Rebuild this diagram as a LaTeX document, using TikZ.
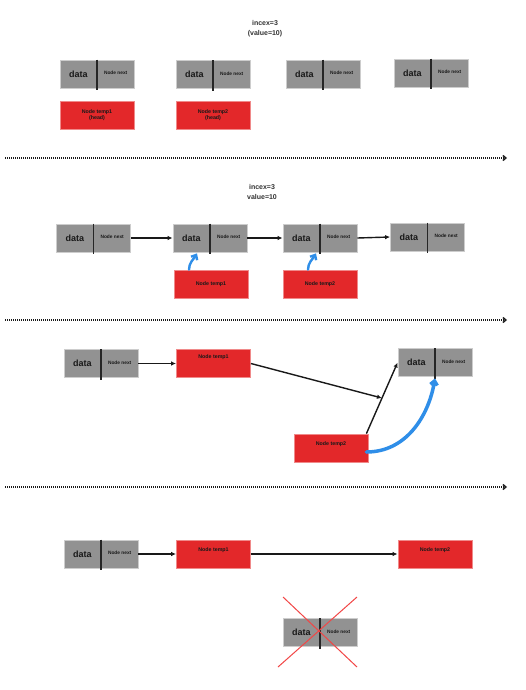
\documentclass[tikz,border=0pt]{standalone}
\usepackage{fontspec}
\setmainfont{Liberation Sans}
\usetikzlibrary{arrows.meta,calc}
\definecolor{boxgray}{HTML}{929292}
\definecolor{boxedge}{HTML}{CDCDCD}
\definecolor{tempred}{HTML}{E3282A}
\definecolor{rededge}{HTML}{F08A8A}
\definecolor{ptrblue}{HTML}{2F8EE8}
\definecolor{xred}{HTML}{F24646}
\tikzset{
  gbox/.style={draw=boxedge, line width=0.8pt, fill=boxgray, minimum width=74pt, minimum height=28pt, inner sep=0pt},
  rbox/.style={draw=rededge, line width=0.8pt, fill=tempred, minimum width=74pt, minimum height=28pt, inner sep=0pt},
  divider/.style={line width=1.5pt, black!85},
  datatxt/.style={font=\bfseries\fontsize{9}{10}\selectfont, text=black!90, inner sep=0pt},
  nexttxt/.style={font=\bfseries\fontsize{4.8}{5}\selectfont, text=black!90, inner sep=0pt},
  temptxt/.style={font=\bfseries\fontsize{5.3}{6}\selectfont, align=center, text=black!90, inner sep=0pt},
  titletxt/.style={font=\bfseries\fontsize{7}{10.5}\selectfont, align=center, text=black!80, inner sep=0pt},
  link/.style={-{Latex[length=5pt,width=4.5pt]}, line width=1.4pt, black!90},
  ptr/.style={ptrblue, line cap=round, -{Straight Barb[length=4pt,width=7pt]}},
  sepline/.style={line width=1.4pt, dash pattern=on 1pt off 1pt, black!90, -{Straight Barb[length=3pt,width=5pt]}},
  xline/.style={xred, line width=1pt}
}
\newcommand\listnode[3]{%
  \node[gbox] (#1) at (#2,#3) {};
  \draw[divider] (#1.north) -- ([yshift=-2pt]#1.south);
  \node[datatxt] (#1-d) at ($(#1.center)!0.5!(#1.west)$) {data};
  \node[nexttxt] (#1-n) at ([yshift=0.8pt]$(#1.center)!0.5!(#1.east)$) {Node next};
}
\begin{document}
\begin{tikzpicture}[x=1pt,y=-1pt]
\useasboundingbox (0,0) rectangle (526,690);
\fill[white] (0,0) rectangle (526,690);

% ---------- section 1
\node[titletxt] (title1) at (265,28.5) {incex=3\\(value=10)};
\listnode{a1}{97}{74}
\listnode{a2}{213}{74.5}
\listnode{a3}{323}{74}
\listnode{a4}{431}{73}
\node[rbox] (ar1) at (97,115.5) {};
\node[temptxt] (ar1-t) at (ar1) {Node temp1\\(head)};
\node[rbox] (ar2) at (213,115.5) {};
\node[temptxt] (ar2-t) at (ar2) {Node temp2\\(head)};
\coordinate (s1l) at (5,158);
\coordinate (s1r) at (507,158);
\draw[sepline] (s1l) -- (s1r);

% ---------- section 2
\node[titletxt] (title2) at (262,192) {incex=3\\value=10};
\listnode{b1}{93.5}{238}
\listnode{b2}{210}{238}
\listnode{b3}{320}{238}
\listnode{b4}{427.5}{237}
\draw[link] (b1.east) -- (b2.west);
\draw[link] (b2.east) -- (b3.west);
\draw[link] (b3.east) -- (b4.west);
\node[rbox] (br1) at (211,284) {};
\node[temptxt] (br1-t) at (br1) {Node temp1};
\node[rbox] (br2) at (320,284) {};
\node[temptxt] (br2-t) at (br2) {Node temp2};
\draw[ptr, line width=2.4pt] ([xshift=-22pt]br1.north) to[out=90,in=-120] ([xshift=-13pt,yshift=-1pt]b2.south);
\draw[ptr, line width=2.4pt] ([xshift=-12pt]br2.north) to[out=90,in=-120] ([xshift=-4pt,yshift=-1pt]b3.south);
\coordinate (s2l) at (5,320);
\coordinate (s2r) at (507,320);
\draw[sepline] (s2l) -- (s2r);

% ---------- section 3
\listnode{c1}{101}{363.5}
\node[rbox] (cr1) at (213.5,363.5) {};
\node[temptxt] (cr1-t) at ([yshift=-8pt]cr1.north) {Node temp1};
\listnode{c2}{435}{362.5}
\node[rbox] (cr2) at (331,448) {};
\node[temptxt] (cr2-t) at ([yshift=-11pt]cr2.north) {Node temp2};
\draw[link] (c1.east) -- (cr1.west);
\coordinate (cstart) at ([xshift=-2pt]cr2.north east);
\coordinate (cmid) at ($(cstart)!0.5!(c2.west)$);
\draw[link] (cstart) -- (c2.west);
\draw[link] (cr1.east) -- (cmid);
\draw[ptr, line width=3.5pt] ([xshift=-2pt,yshift=-4pt]cr2.east) to[out=0,in=-100] ([yshift=-1.5pt]c2.south);
\coordinate (s3l) at (5,487);
\coordinate (s3r) at (507,487);
\draw[sepline] (s3l) -- (s3r);

% ---------- section 4
\listnode{d1}{101}{554}
\node[rbox] (dr1) at (213.5,554) {};
\node[temptxt] (dr1-t) at ([yshift=-11pt]dr1.north) {Node temp1};
\node[rbox] (dr2) at (435,554) {};
\node[temptxt] (dr2-t) at ([yshift=-11pt]dr2.north) {Node temp2};
\draw[link] (d1.east) -- (dr1.west);
\draw[link] (dr1.east) -- (dr2.west);
\listnode{dx}{320}{632.5}
\coordinate (x1a) at ($(dx)+(-42,34.5)$);
\coordinate (x1b) at ($(dx)+(37,-35.5)$);
\coordinate (x2a) at ($(dx)+(-37,-35.5)$);
\coordinate (x2b) at ($(dx)+(37,34.5)$);
\draw[xline] (x1a) -- (x1b);
\draw[xline] (x2a) -- (x2b);
\end{tikzpicture}
\end{document}
